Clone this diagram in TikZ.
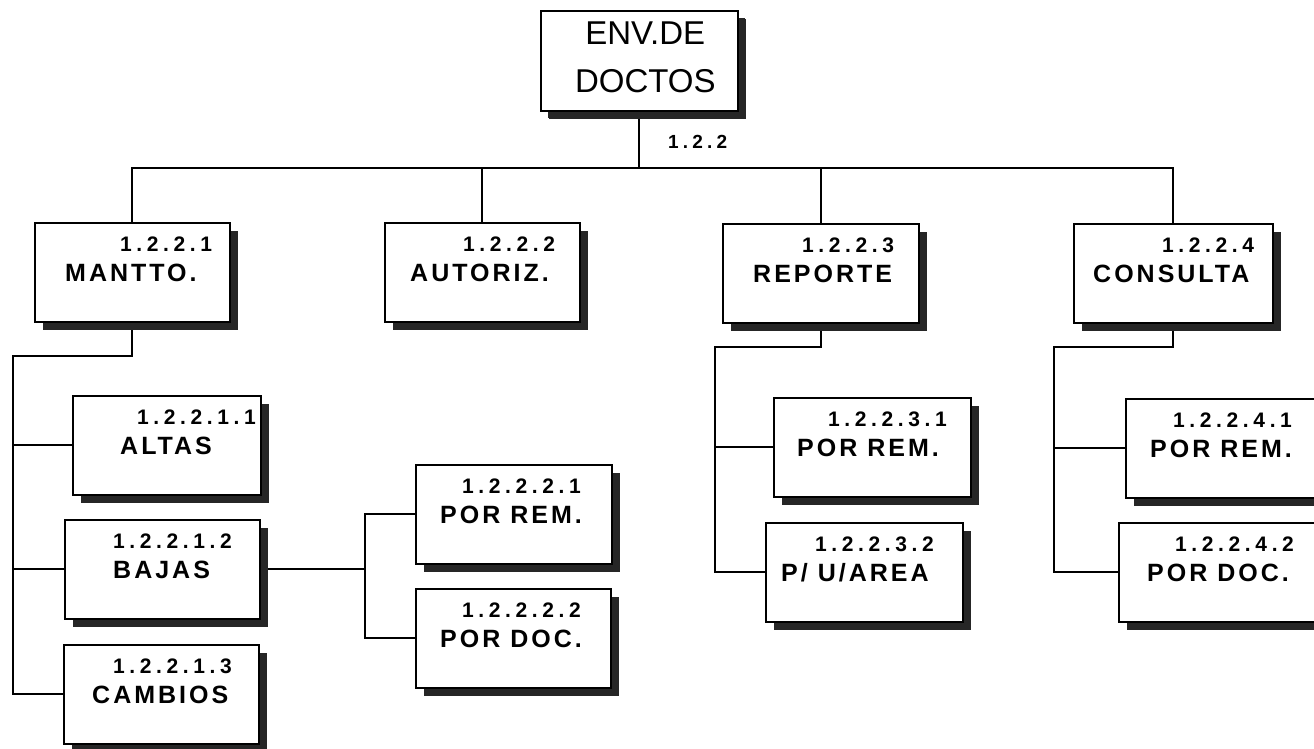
\documentclass[tikz,border=0pt]{standalone}
\usepackage{fontspec}
\setmainfont{Liberation Sans}
\newfontfamily\numfont[LetterSpace=22]{Liberation Sans}
\newfontfamily\namefont[LetterSpace=12]{Liberation Sans}
\usetikzlibrary{shadows,backgrounds,calc}
\tikzset{
    caja/.style={draw, line width=1.6pt, fill=white, rectangle, inner sep=0pt,
        minimum height=99, anchor=north west,
        drop shadow={shadow xshift=8pt, shadow yshift=-8pt, fill=black!85, opacity=1}},
    numero/.style={font=\numfont\bfseries\fontsize{21}{24}\selectfont, anchor=west,
        inner sep=0pt, text height=15pt, text depth=0pt},
    nombre/.style={font=\namefont\bfseries\fontsize{25}{28}\selectfont, anchor=west,
        inner sep=0pt, text height=17.9pt, text depth=0pt},
    linea/.style={line width=1.8pt}
}
\begin{document}
\begin{tikzpicture}[x=1pt, y=-1pt]
        \useasboundingbox (0,0) rectangle (1314,749);
        \begin{scope}[on background layer]
            \fill[white] (0,0) rectangle (1314,749);
        \end{scope}
        \node[caja, minimum width=197, minimum height=100,
            drop shadow={shadow xshift=7pt, shadow yshift=-7pt, fill=black!85, opacity=1}] (top) at (540,10) {};
        \node[align=center, inner sep=0pt, font=\fontsize{33}{48}\selectfont] (topt) at ($(top.center)+(6,-3)$) {ENV.DE\\DOCTOS};
        \node[numero, font=\numfont\bfseries\fontsize{19}{22}\selectfont, text height=13.6pt] (lbl) at (668,142) {1.2.2};
        \foreach \id/\x/\y/\w/\num/\txt/\dn/\dt in {
            b1/34/222/195/1.2.2.1/MANTTO./86/31,
            b2/384/222/195/1.2.2.2/AUTORIZ./79/26,
            b3/722/223/196/1.2.2.3/REPORTE/80/31,
            b4/1073/223/199/1.2.2.4/CONSULTA/89/20,
            c11/72/395/188/1.2.2.1.1/ALTAS/65/48,
            c12/64/519/195/1.2.2.1.2/BAJAS/49/49,
            c13/63/644/195/1.2.2.1.3/CAMBIOS/50/29,
            c21/415/464/196/1.2.2.2.1/POR REM./47/25,
            c22/415/588/195/1.2.2.2.2/POR DOC./47/25,
            c31/773/397/197/1.2.2.3.1/POR REM./55/24,
            c32/765/522/197/1.2.2.3.2/{P/ U/AREA}/50/16,
            c41/1125/398/197/1.2.2.4.1/POR REM./48/25,
            c42/1118/522/197/1.2.2.4.2/POR DOC./57/29} {
            \node[caja, minimum width=\w] (\id) at (\x,\y) {};
            \node[numero] (\id n) at ($(\id.north west)+(\dn,22)$) {\num};
            \node[nombre] (\id t) at ($(\id.north west)+(\dt,51)$) {\txt};
        }
        \begin{scope}[on background layer]
        \begin{scope}[linea]
            \coordinate (bus) at ($(top.south)+(0,56)$);
            \coordinate (m1) at (13,356);
            \coordinate (m3) at (715,347);
            \coordinate (m4) at (1054,347);
            \draw (top.south) -- (bus);
            \foreach \b in {b1,b2,b3,b4} { \draw (\b.north) |- (bus); }
            \draw (b1.south) |- (m1) |- (c13.west);
            \draw (m1) |- (c11.west);
            \draw (m1) |- (c12.west);
            \draw (c12.east) -- ++(104,0) coordinate (m2);
            \draw (m2) |- (c21.west);
            \draw (m2) |- (c22.west);
            \draw (b3.south) |- (m3) |- (c32.west);
            \draw (m3) |- (c31.west);
            \draw (b4.south) |- (m4) |- (c42.west);
            \draw (m4) |- (c41.west);
        \end{scope}
        \end{scope}
    \end{tikzpicture}
\end{document}
